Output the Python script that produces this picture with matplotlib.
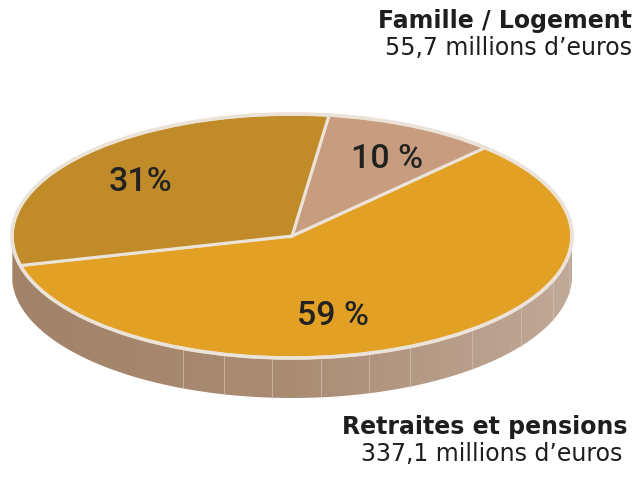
import numpy as np
import matplotlib
matplotlib.use("Agg")
import matplotlib.pyplot as plt
from matplotlib.transforms import Affine2D
from matplotlib.patches import Polygon, Ellipse
from matplotlib.colors import LinearSegmentedColormap

# ---- data ----
categories = ["Retraites et pensions", "Famille / Logement", "Autres"]
shares = [59, 10, 31]
pct_labels = ["59 %", "10 %", "31%"]
colors = ["#e2a024", "#c89c7e", "#c08b28"]
amount_labels = {"Famille / Logement": "55,7 millions d\u2019euros",
                 "Retraites et pensions": "337,1 millions d\u2019euros"}

W, H = 637, 479
fig = plt.figure(figsize=(W / 100, H / 100), dpi=100)
ax = fig.add_axes([0, 0, 1, 1])

def Y(y):
    return H - y

cx, cy = 292, Y(236)
a, b = 280, 122
depth = 40
edge = "#ebe3d8"

# ---- side (front of the cylinder) ----
t = np.linspace(np.pi, 2 * np.pi, 300)
top = np.column_stack([cx + a * np.cos(t), cy + b * np.sin(t)])
bot = top[::-1] - [0, depth]
side = Polygon(np.vstack([top, bot]), closed=True, facecolor="none", edgecolor="none")
ax.add_patch(side)
cmap = LinearSegmentedColormap.from_list("side", ["#a2836a", "#aa8c73", "#c1a998"])
grad = np.linspace(0, 1, 256).reshape(1, -1)
im = ax.imshow(grad, cmap=cmap, extent=[cx - a, cx + a, cy - b - depth, cy],
               aspect="auto", zorder=1)
im.set_clip_path(side)
# faint facet lines on the side
for ang in [183, 247, 256, 266, 276, 286, 295, 310, 325, 339, 352]:
    tt = np.deg2rad(ang)
    x0, y0 = cx + a * np.cos(tt), cy + b * np.sin(tt)
    ax.plot([x0, x0], [y0, y0 - depth], color="#d3c2b3", lw=0.6, alpha=0.8, zorder=2)

# ---- top of the pie ----
wedges, _ = ax.pie(shares, colors=colors, startangle=194, counterclock=True,
                   center=(cx, cy), radius=a,
                   wedgeprops=dict(edgecolor=edge, linewidth=2.2))
squash = Affine2D().translate(-cx, -cy).scale(1, b / a).translate(cx, cy)
for w in wedges:
    w.set_transform(squash + ax.transData)
    w.set_zorder(3)
ax.add_patch(Ellipse((cx, cy), 2 * a, 2 * b, facecolor="none", edgecolor=edge,
                     lw=2.6, zorder=4))

# ---- percentage labels ----
lab_pos = [(333, 325), (387, 168), (140, 191)]
for txt, (x, y) in zip(pct_labels, lab_pos):
    ax.text(x, Y(y), txt, ha="center", va="baseline", fontsize=24.5,
            family="Roboto", fontweight="medium", color="#222222", zorder=5)

# ---- category captions ----
fs = 17
cap_font = "DejaVu Sans"
ax.text(632, Y(27.5), categories[1], ha="right", va="baseline", fontsize=fs,
        family=cap_font, fontweight="bold", color="#1e1e1e")
ax.text(632, Y(55), amount_labels[categories[1]], ha="right", va="baseline", fontsize=fs,
        family=cap_font, color="#1e1e1e")
ax.text(627, Y(434), categories[0], ha="right", va="baseline", fontsize=fs,
        family=cap_font, fontweight="bold", color="#1e1e1e")
ax.text(622, Y(461.5), amount_labels[categories[0]], ha="right", va="baseline", fontsize=fs,
        family=cap_font, color="#1e1e1e")

ax.set_xlim(0, W)
ax.set_ylim(0, H)
ax.set_aspect("auto")
ax.axis("off")
fig.savefig("out.png", dpi=100)
